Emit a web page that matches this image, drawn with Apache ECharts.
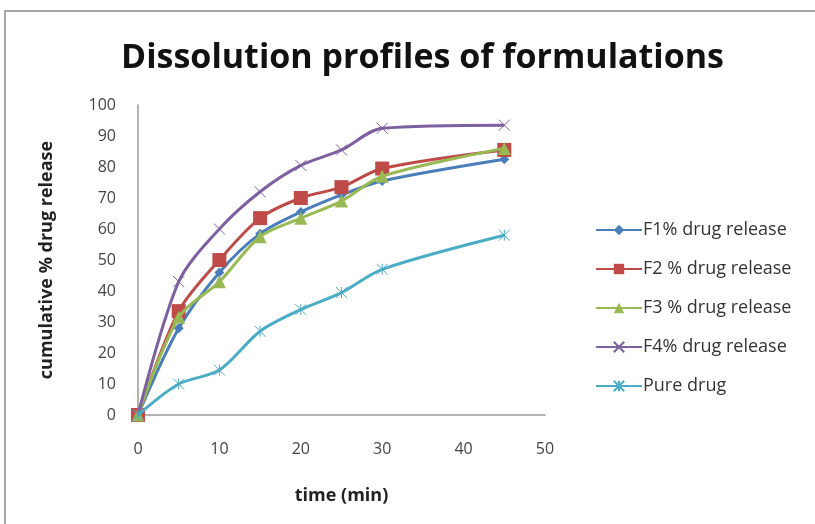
<!DOCTYPE html>
<html>
<head>
<meta charset="utf-8">
<script src="https://cdn.jsdelivr.net/npm/echarts@6/dist/echarts.min.js"></script>
<style>
  html, body { margin: 0; padding: 0; background: #fff; }
  #chart { width: 815px; height: 524px; }
</style>
</head>
<body>
<div id="chart"></div>
<script>
// time points (min)
var times = [0, 5, 10, 15, 20, 25, 30, 45];
// cumulative % drug release
var f1 = [0, 28, 46, 58.5, 65.5, 71, 75.5, 82.5];
var f2 = [0, 33.5, 50, 63.5, 70, 73.5, 79.5, 85.5];
var f3 = [0, 31.5, 43, 57.5, 63.5, 69, 77, 86];
var f4 = [0, 43, 60, 72, 80.5, 85.5, 92.5, 93.5];
var pure = [0, 10, 14.5, 27, 34, 39.5, 47, 58];

var names = ['F1% drug release', 'F2 % drug release', 'F3 % drug release', 'F4% drug release', 'Pure drug'];
var colors = ['#4A7EBB', '#BE4B48', '#98B954', '#7D60A0', '#4BACC6'];

var xMark = 'path://M0,0 L10,10 M10,0 L0,10';
var starMark = 'path://M0,0 L10,10 M10,0 L0,10 M5,0 L5,10';

function pairs(vals) {
    var out = [];
    for (var i = 0; i < times.length; i++) out.push([times[i], vals[i]]);
    return out;
}

var myChart = echarts.init(document.getElementById('chart'));

function mkSeries(idx, vals, symbol, size) {
    return {
        name: names[idx],
        type: 'line',
        smooth: 0.3,
        data: pairs(vals),
        symbol: symbol,
        symbolSize: size,
        lineStyle: { color: colors[idx], width: 3 },
        itemStyle: { color: colors[idx], borderColor: colors[idx], borderWidth: 0 },
        z: 2 + idx
    };
}

var series = [
    mkSeries(0, f1, 'diamond', 10),
    mkSeries(1, f2, 'rect', 14),
    mkSeries(2, f3, 'triangle', 13),
    mkSeries(3, f4, xMark, 11),
    mkSeries(4, pure, starMark, 11)
];
// x / star markers are drawn by stroke only
series[3].itemStyle = { color: 'none', borderColor: colors[3], borderWidth: 1 };
series[4].itemStyle = { color: 'none', borderColor: colors[4], borderWidth: 1 };

var option = {
    animation: false,
    backgroundColor: '#fff',
    graphic: [{
        type: 'rect',
        shape: { x: 5, y: 11, width: 830, height: 530 },
        style: { fill: 'none', stroke: '#8a8a8a', lineWidth: 1.5 },
        silent: true
    }],
    title: {
        text: 'Dissolution profiles of formulations',
        left: 116,
        top: 36,
        textStyle: {
            fontFamily: 'Open Sans',
            fontWeight: 'bold',
            fontSize: 34,
            color: '#111'
        }
    },
    legend: {
        orient: 'vertical',
        left: 590,
        top: 216,
        itemGap: 21,
        itemWidth: 46,
        itemHeight: 13,
        textStyle: { fontFamily: 'Open Sans', fontSize: 18, color: '#333', padding: [0, 0, 0, -4] },
        data: names
    },
    grid: { left: 138, right: 270, top: 105, bottom: 109 },
    xAxis: {
        type: 'value',
        min: 0, max: 50, interval: 10,
        name: 'time (min)',
        nameLocation: 'middle',
        nameGap: 72,
        nameTextStyle: { fontFamily: 'Open Sans', fontWeight: 'bold', fontSize: 18, color: '#222' },
        axisLine: { lineStyle: { color: '#999', width: 1.5 } },
        axisTick: { show: false },
        splitLine: { show: false },
        axisLabel: { fontFamily: 'Open Sans', fontSize: 16, color: '#444', margin: 26 }
    },
    yAxis: {
        type: 'value',
        min: 0, max: 100, interval: 10,
        name: 'cumulative % drug release',
        nameLocation: 'middle',
        nameGap: 82,
        nameRotate: 90,
        nameTextStyle: { fontFamily: 'Open Sans', fontWeight: 'bold', fontSize: 18, color: '#222' },
        axisLine: { show: true, lineStyle: { color: '#999', width: 1.5 } },
        axisTick: { show: false },
        splitLine: { show: false },
        axisLabel: { fontFamily: 'Open Sans', fontSize: 16, color: '#444', margin: 22 }
    },
    series: series
};

myChart.setOption(option);
</script>
</body>
</html>
